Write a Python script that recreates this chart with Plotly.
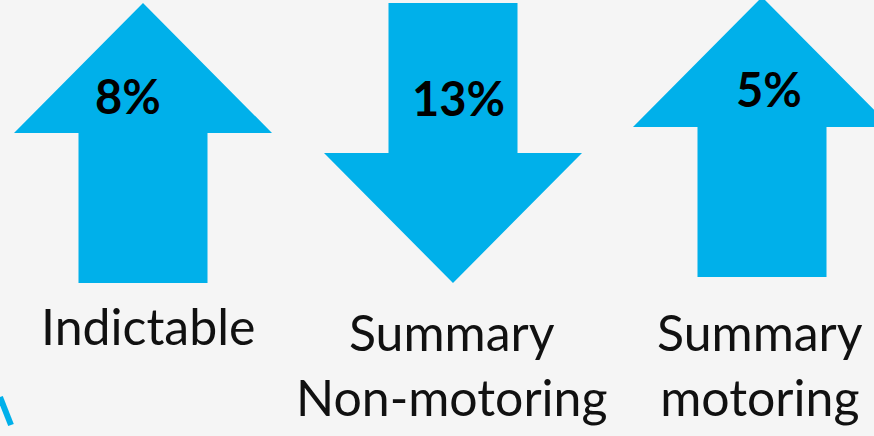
#!/usr/bin/env python
# -*- coding: utf-8 -*-

from plotly.graph_objects import Figure
from plotly.graph_objects import Scatter

categories = ["Indictable", "Summary<br>Non-motoring", "Summary<br>motoring"]
changes = [8, -13, 5]

WIDTH, HEIGHT = 874, 436
BLUE = "#00B0EA"
BG = "#F5F5F5"

# arrow layout (pixel space)
centers = [143, 453, 762]
tops = [3, 3, -3]
arrow_len = 280
head_len = 130
head_half = 129
shaft_half = 64.5
pct_offsets = [(-15, 96), (5, 98), (7, 89)]
label_pos = [(5, 326), (-1, 364), (-2, 364)]


def arrow_path(cx, top, up):
    bottom = top + arrow_len
    if up:
        hb = top + head_len
        xs = [cx, cx + head_half, cx + shaft_half, cx + shaft_half,
              cx - shaft_half, cx - shaft_half, cx - head_half, cx]
        ys = [top, hb, hb, bottom, bottom, hb, hb, top]
    else:
        hb = bottom - head_len
        xs = [cx - shaft_half, cx + shaft_half, cx + shaft_half, cx + head_half,
              cx, cx - head_half, cx - shaft_half, cx - shaft_half]
        ys = [top, top, hb, hb, bottom, hb, hb, top]
    return xs, ys


def create_figure():
    figure = Figure()
    for cx, top, change in zip(centers, tops, changes):
        xs, ys = arrow_path(cx, top, change > 0)
        figure.add_trace(
            Scatter(x=xs, y=ys, fill="toself", fillcolor=BLUE, mode="lines",
                    line=dict(width=0, color=BLUE), hoverinfo="skip",
                    showlegend=False)
        )
    # small fragment at bottom left
    figure.add_trace(
        Scatter(x=[0, 11], y=[397, 425], mode="lines",
                line=dict(width=6, color=BLUE), hoverinfo="skip",
                showlegend=False)
    )
    for cx, change, (dx, py), name, (lx, ly) in zip(centers, changes, pct_offsets,
                                                    categories, label_pos):
        figure.add_annotation(
            x=cx + dx, y=py, text="<b>%d%%</b>" % abs(change), showarrow=False,
            font=dict(family="Lato", size=47, color="#000000"),
            xanchor="center", yanchor="middle",
        )
        figure.add_annotation(
            x=cx + lx, y=ly, text=name, showarrow=False,
            font=dict(family="Lato", size=50, color="#111111"),
            xanchor="center", yanchor="middle",
        )
    figure.update_layout(
        width=WIDTH, height=HEIGHT,
        margin=dict(t=0, r=0, b=0, l=0),
        paper_bgcolor=BG, plot_bgcolor=BG,
    )
    figure.update_xaxes(range=[0, WIDTH], visible=False, fixedrange=True)
    figure.update_yaxes(range=[HEIGHT, 0], visible=False, fixedrange=True)
    return figure


fig = create_figure()
fig.write_html(
    "out.html",
    config={"displayModeBar": False},
    post_script="document.body.style.margin='0';document.body.style.overflow='hidden';",
)
